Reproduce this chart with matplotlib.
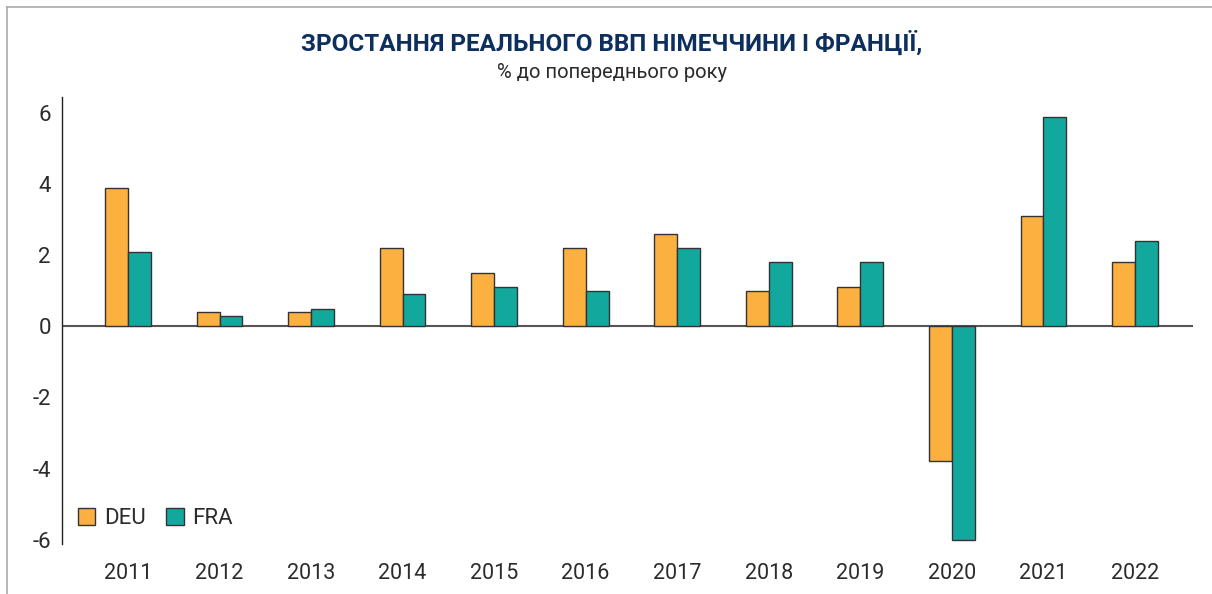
import matplotlib.pyplot as plt
import numpy as np
from matplotlib.lines import Line2D

years = ["2011", "2012", "2013", "2014", "2015", "2016", "2017", "2018", "2019", "2020", "2021", "2022"]
deu = [3.9, 0.4, 0.4, 2.2, 1.5, 2.2, 2.6, 1.0, 1.1, -3.8, 3.1, 1.8]
fra = [2.1, 0.3, 0.5, 0.9, 1.1, 1.0, 2.2, 1.8, 1.8, -6.0, 5.9, 2.4]
yticks = [-6, -4, -2, 0, 2, 4, 6]

title = "ЗРОСТАННЯ РЕАЛЬНОГО ВВП НІМЕЧЧИНИ І ФРАНЦІЇ,"
subtitle = "% до попереднього року"

plt.rcParams['font.family'] = ['Roboto', 'DejaVu Sans']

fig = plt.figure(figsize=(12.12, 5.94), dpi=100)
ax = fig.add_axes([0.0512, 0.0842, 0.9328, 0.7525])

x = np.arange(len(years))
w = 0.25
ax.bar(x - w / 2, deu, w, color="#FBB040", edgecolor="#333333", linewidth=1, label="DEU", zorder=3)
ax.bar(x + w / 2, fra, w, color="#12A89D", edgecolor="#333333", linewidth=1, label="FRA", zorder=3)

ax.axhline(0, color="#555555", linewidth=1.5, zorder=2)
ax.set_xlim(-0.72, len(years) - 0.37)
ax.set_ylim(-6.12, 6.45)
ax.set_yticks(yticks)
ax.set_yticklabels([str(v) for v in yticks], fontsize=16, color="#2b2b2b")
ax.set_xticks(x)
ax.set_xticklabels(years, fontsize=15.5, color="#2b2b2b")
ax.tick_params(axis="both", length=0)
ax.tick_params(axis="y", pad=8)
ax.tick_params(axis="x", pad=14)
for s in ["top", "right", "bottom"]:
    ax.spines[s].set_visible(False)
ax.spines["left"].set_color("#222222")
ax.spines["left"].set_linewidth(1)

ax.legend(loc="lower left", bbox_to_anchor=(-0.004, -0.012), ncol=2, frameon=False,
          fontsize=16, handlelength=0.8, handleheight=0.8, handletextpad=0.4,
          columnspacing=0.9, labelcolor="#2b2b2b")

fig.text(0.505, 0.927, title, ha="center", va="center", fontsize=17.5,
         fontweight="bold", color="#0d2f5e")
fig.text(0.505, 0.878, subtitle, ha="center", va="center", fontsize=14.5, color="#2b2b2b")

# light frame on top and left
fig.add_artist(Line2D([0.006, 1.0], [0.988, 0.988], color="#aaaaaa", linewidth=1.2))
fig.add_artist(Line2D([0.006, 0.006], [0.0, 0.988], color="#aaaaaa", linewidth=1.2))

plt.savefig("out.png")
